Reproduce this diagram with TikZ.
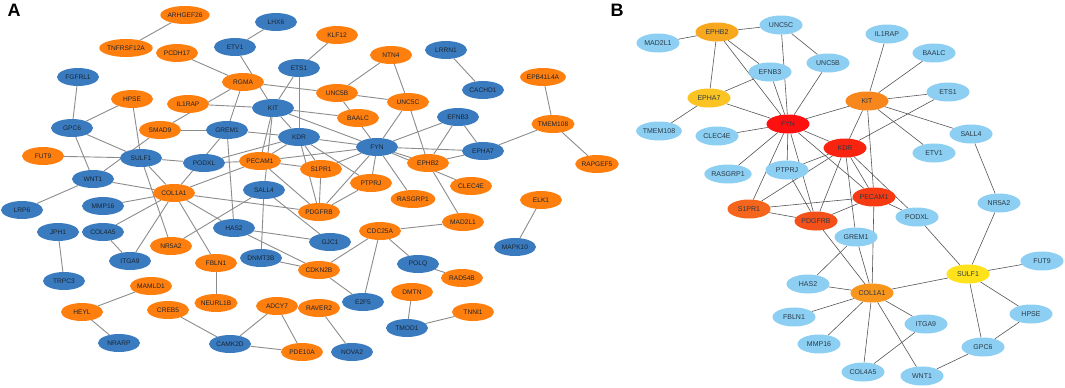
\documentclass[tikz,border=0pt]{standalone}
\usepackage{fontspec}
\setmainfont{Liberation Sans}
\usetikzlibrary{shapes.geometric}
\pgfdeclarelayer{background}
\pgfdeclarelayer{canvas}
\pgfsetlayers{canvas,background,main}
\definecolor{aor}{HTML}{FF7F0E}
\definecolor{abl}{HTML}{3A7BBF}
\definecolor{blb}{HTML}{8CCFF2}
\definecolor{cFYN}{HTML}{FF1010}
\definecolor{cKDR}{HTML}{F82410}
\definecolor{cPEC}{HTML}{F63A12}
\definecolor{cPDG}{HTML}{F4511A}
\definecolor{cSIP}{HTML}{F5661C}
\definecolor{cKIT}{HTML}{F7861C}
\definecolor{cCOL}{HTML}{F7951C}
\definecolor{cEBB}{HTML}{F8A81E}
\definecolor{cEAS}{HTML}{FBC422}
\definecolor{cSUL}{HTML}{FFE21A}
\definecolor{atext}{HTML}{1A2430}
\definecolor{btext}{HTML}{2B3A47}
\definecolor{aedgecol}{HTML}{8C8C8C}
\definecolor{bedgecol}{HTML}{555555}
\tikzset{
  anode/.style={ellipse, draw=none, minimum width=42pt, minimum height=18pt, inner sep=0pt,
    text=atext, font=\fontsize{6.6}{7}\selectfont},
  ao/.style={anode, fill=aor},
  ab/.style={anode, fill=abl},
  bnode/.style={ellipse, draw=none, minimum width=43pt, minimum height=19pt, inner sep=0pt,
    text=btext, font=\fontsize{7}{8}\selectfont},
  bl/.style={bnode, fill=blb},
  bc/.style={bnode, fill=#1},
  aedge/.style={draw=aedgecol, line width=0.9pt},
  bedge/.style={draw=bedgecol, line width=0.6pt},
  panellabel/.style={font=\fontsize{18}{18}\selectfont\bfseries, text=black, inner sep=0pt}
}
\begin{document}
\begin{tikzpicture}[x=1pt,y=-1pt]
\useasboundingbox (0,0) rectangle (1065,388);
\begin{pgfonlayer}{canvas}
\fill[white] (0,0) rectangle (1065,388);
\end{pgfonlayer}
\node[panellabel] (labA) at (14,10) {A};
\node[panellabel] (labB) at (617,10) {B};
% ---------------- Panel A nodes
\node[ao] (aARHGEF26) at (185,15) {ARHGEF26};
\node[ab] (aLHX6) at (276,22) {LHX6};
\node[ao] (aTNFRSF12A) at (126,48) {TNFRSF12A};
\node[ab] (aETV1) at (235,47) {ETV1};
\node[ao] (aPCDH17) at (177,53) {PCDH17};
\node[ao] (aKLF12) at (337,35) {KLF12};
\node[ao] (aNTN4) at (391,55) {NTN4};
\node[ab] (aLRRN1) at (446,50) {LRRN1};
\node[ab] (aETS1) at (299,68) {ETS1};
\node[ab] (aFGFRL1) at (78,77) {FGFRL1};
\node[ao] (aRGMA) at (243,82) {RGMA};
\node[ao] (aEPB41L4A) at (543,77) {EPB41L4A};
\node[ab] (aCACHD1) at (483,90) {CACHD1};
\node[ao] (aUNC5B) at (337,93) {UNC5B};
\node[ao] (aHPSE) at (132,99) {HPSE};
\node[ao] (aIL1RAP) at (188,104) {IL1RAP};
\node[ao] (aUNC5C) at (408,102) {UNC5C};
\node[ab] (aKIT) at (273,108) {KIT};
\node[ao] (aBAALC) at (358,118) {BAALC};
\node[ab] (aEFNB3) at (458,117) {EFNB3};
\node[ao] (aTMEM108) at (553,124) {TMEM108};
\node[ab] (aGPC6) at (72,128) {GPC6};
\node[ao] (aSMAD9) at (160,130) {SMAD9};
\node[ab] (aGREM1) at (227,130) {GREM1};
\node[ab] (aKDR) at (299,137) {KDR};
\node[ab] (aFYN) at (377,147) {FYN};
\node[ab] (aEPHA7) at (483,151) {EPHA7};
\node[ao] (aFUT9) at (43,156) {FUT9};
\node[ab] (aSULF1) at (141,158) {SULF1};
\node[ab] (aPODXL) at (204,163) {PODXL};
\node[ao] (aPECAM1) at (260,161) {PECAM1};
\node[ao] (aEPHB2) at (428,163) {EPHB2};
\node[ao] (aRAPGEF5) at (597,164) {RAPGEF5};
\node[ao] (aS1PR1) at (321,169) {S1PR1};
\node[ao] (aPTPRJ) at (371,183) {PTPRJ};
\node[ao] (aCLEC4E) at (471,186) {CLEC4E};
\node[ab] (aWNT1) at (93,179) {WNT1};
\node[ao] (aCOL1A1) at (174,193) {COL1A1};
\node[ab] (aSALL4) at (264,190) {SALL4};
\node[ao] (aRASGRP1) at (413,199) {RASGRP1};
\node[ao] (aELK1) at (541,200) {ELK1};
\node[ab] (aLRP6) at (22,210) {LRP6};
\node[ab] (aMMP16) at (103,206) {MMP16};
\node[ao] (aPDGFRB) at (319,212) {PDGFRB};
\node[ao] (aMAD2L1) at (463,222) {MAD2L1};
\node[ab] (aHAS2) at (234,228) {HAS2};
\node[ao] (aCDC25A) at (380,231) {CDC25A};
\node[ab] (aJPH1) at (58,232) {JPH1};
\node[ab] (aCOL4A5) at (103,232) {COL4A5};
\node[ab] (aGJC1) at (330,242) {GJC1};
\node[ao] (aNR5A2) at (171,246) {NR5A2};
\node[ab] (aMAPK10) at (515,247) {MAPK10};
\node[ab] (aDNMT3B) at (261,258) {DNMT3B};
\node[ab] (aITGA9) at (130,261) {ITGA9};
\node[ao] (aFBLN1) at (216,263) {FBLN1};
\node[ab] (aPOLQ) at (418,264) {POLQ};
\node[ao] (aCDKN2B) at (319,270) {CDKN2B};
\node[ao] (aRAD54B) at (462,278) {RAD54B};
\node[ab] (aTRPC3) at (64,281) {TRPC3};
\node[ao] (aMAMLD1) at (151,286) {MAMLD1};
\node[ao] (aDMTN) at (412,292) {DMTN};
\node[ab] (aE2F5) at (363,302) {E2F5};
\node[ao] (aNEURL1B) at (216,303) {NEURL1B};
\node[ao] (aADCY7) at (277,306) {ADCY7};
\node[ao] (aRAVER2) at (319,308) {RAVER2};
\node[ao] (aCREB5) at (168,310) {CREB5};
\node[ao] (aHEYL) at (82,312) {HEYL};
\node[ao] (aTNNI1) at (473,312) {TNNI1};
\node[ab] (aTMOD1) at (407,328) {TMOD1};
\node[ab] (aNRARP) at (119,343) {NRARP};
\node[ab] (aCAMK2D) at (230,344) {CAMK2D};
\node[ao] (aPDE10A) at (302,352) {PDE10A};
\node[ab] (aNOVA2) at (352,352) {NOVA2};
% ---------------- Panel B nodes
\node[bl] (bMAD2L1) at (658,43) {MAD2L1};
\node[bc=cEBB] (bEPHB2) at (717,32) {EPHB2};
\node[bl] (bUNC5C) at (781,25) {UNC5C};
\node[bl] (bUNC5B) at (828,63) {UNC5B};
\node[bl] (bEFNB3) at (770,72) {EFNB3};
\node[bc=cEAS] (bEPHA7) at (709,98) {EPHA7};
\node[bl] (bTMEM108) at (659,131) {TMEM108};
\node[bl] (bCLEC4E) at (717,136) {CLEC4E};
\node[bc=cFYN] (bFYN) at (788,124) {FYN};
\node[bl] (bIL1RAP) at (887,34) {IL1RAP};
\node[bl] (bBAALC) at (934,53) {BAALC};
\node[bl] (bETS1) at (948,92) {ETS1};
\node[bc=cKIT] (bKIT) at (867,101) {KIT};
\node[bl] (bSALL4) at (971,134) {SALL4};
\node[bl] (bETV1) at (934,153) {ETV1};
\node[bc=cKDR] (bKDR) at (845,148) {KDR};
\node[bl] (bPTPRJ) at (787,170) {PTPRJ};
\node[bl] (bRASGRP1) at (728,174) {RASGRP1};
\node[bc=cSIP] (bS1PR1) at (749,209) {S1PR1};
\node[bc=cPDG] (bPDGFRB) at (816,221) {PDGFRB};
\node[bc=cPEC] (bPECAM1) at (874,197) {PECAM1};
\node[bl] (bPODXL) at (917,217) {PODXL};
\node[bl] (bNR5A2) at (999,203) {NR5A2};
\node[bl] (bGREM1) at (856,237) {GREM1};
\node[bc=cSUL] (bSULF1) at (968,274) {SULF1};
\node[bl] (bFUT9) at (1042,261) {FUT9};
\node[bl] (bHAS2) at (808,284) {HAS2};
\node[bc=cCOL] (bCOL1A1) at (872,293) {COL1A1};
\node[bl] (bFBLN1) at (794,317) {FBLN1};
\node[bl] (bITGA9) at (926,324) {ITGA9};
\node[bl] (bHPSE) at (1031,314) {HPSE};
\node[bl] (bMMP16) at (819,344) {MMP16};
\node[bl] (bGPC6) at (983,347) {GPC6};
\node[bl] (bCOL4A5) at (863,372) {COL4A5};
\node[bl] (bWNT1) at (922,376) {WNT1};
% ---------------- Edges
\begin{pgfonlayer}{background}
\foreach \u/\v in {
  aARHGEF26/aTNFRSF12A, aLHX6/aETV1, aETV1/aKIT, aPCDH17/aRGMA, aFGFRL1/aGPC6,
  aSMAD9/aRGMA, aIL1RAP/aKIT, aRGMA/aGREM1, aRGMA/aUNC5B, aHPSE/aGPC6, aHPSE/aSULF1,
  aSMAD9/aGREM1, aWNT1/aSMAD9, aGPC6/aSULF1, aGPC6/aWNT1, aFUT9/aSULF1, aSULF1/aPODXL,
  aSULF1/aCOL1A1, aSULF1/aNR5A2, aWNT1/aCOL1A1, aWNT1/aLRP6, aGREM1/aCOL1A1, aGREM1/aKDR,
  aGREM1/aHAS2, aPODXL/aKDR, aPODXL/aPECAM1, aPECAM1/aCOL1A1,
  aKIT/aKDR, aKIT/aPECAM1, aKIT/aSALL4, aKIT/aBAALC, aKIT/aFYN,
  aETS1/aKIT, aETS1/aKDR, aETS1/aKLF12,
  aKDR/aPECAM1, aKDR/aFYN, aKDR/aS1PR1, aKDR/aPDGFRB, aKDR/aPTPRJ,
  aPECAM1/aFYN, aPECAM1/aS1PR1, aPECAM1/aPDGFRB,
  aSALL4/aGJC1, aSALL4/aDNMT3B, aSALL4/aNR5A2,
  aCOL1A1/aPDGFRB, aCOL1A1/aHAS2, aCOL1A1/aMMP16, aCOL1A1/aCOL4A5, aCOL1A1/aITGA9, aCOL1A1/aFBLN1,
  aHAS2/aGJC1, aHAS2/aCDKN2B, aDNMT3B/aCDKN2B,
  aCDC25A/aCDKN2B, aCDC25A/aE2F5, aCDC25A/aPOLQ, aCDC25A/aMAD2L1, aCDKN2B/aE2F5, aPOLQ/aRAD54B,
  aDMTN/aTMOD1, aTMOD1/aTNNI1, aELK1/aMAPK10, aRAVER2/aNOVA2,
  aADCY7/aPDE10A, aADCY7/aCAMK2D, aCAMK2D/aPDE10A, aCREB5/aCAMK2D,
  aMAMLD1/aHEYL, aHEYL/aNRARP, aFBLN1/aNEURL1B, aJPH1/aTRPC3, aCOL4A5/aITGA9,
  aLRRN1/aCACHD1, aEPB41L4A/aTMEM108, aTMEM108/aEPHA7, aTMEM108/aRAPGEF5,
  aEPHB2/aMAD2L1,
  aFYN/aPTPRJ, aFYN/aRASGRP1, aFYN/aPDGFRB, aFYN/aS1PR1, aFYN/aEFNB3, aFYN/aEPHA7,
  aFYN/aEPHB2, aFYN/aCLEC4E, aFYN/aUNC5C, aFYN/aUNC5B,
  aPTPRJ/aPDGFRB, aS1PR1/aPDGFRB,
  aNTN4/aUNC5B, aNTN4/aUNC5C, aUNC5B/aUNC5C, aUNC5C/aEPHB2,
  aEFNB3/aEPHA7, aEFNB3/aEPHB2, aEPHA7/aEPHB2}
  \draw[aedge] (\u) -- (\v);
\foreach \u/\v in {
  bEPHB2/bMAD2L1, bEPHB2/bUNC5C, bEPHB2/bEPHA7, bEPHB2/bEFNB3, bEPHB2/bFYN,
  bEPHA7/bEFNB3, bEPHA7/bFYN, bEPHA7/bTMEM108,
  bUNC5C/bUNC5B, bUNC5C/bFYN, bUNC5B/bFYN, bEFNB3/bFYN,
  bFYN/bCLEC4E, bFYN/bKIT, bFYN/bKDR, bFYN/bRASGRP1, bFYN/bPTPRJ, bFYN/bS1PR1,
  bFYN/bPDGFRB, bFYN/bPECAM1,
  bKIT/bIL1RAP, bKIT/bBAALC, bKIT/bETS1, bKIT/bSALL4, bKIT/bETV1, bKIT/bKDR, bKIT/bPECAM1,
  bETS1/bKDR, bSALL4/bNR5A2,
  bKDR/bPTPRJ, bKDR/bS1PR1, bKDR/bPDGFRB, bKDR/bPECAM1, bKDR/bGREM1, bKDR/bPODXL,
  bPTPRJ/bPDGFRB, bS1PR1/bPDGFRB, bS1PR1/bPECAM1,
  bPDGFRB/bPECAM1, bPDGFRB/bCOL1A1, bPECAM1/bCOL1A1, bPECAM1/bPODXL,
  bGREM1/bHAS2, bGREM1/bCOL1A1,
  bCOL1A1/bHAS2, bCOL1A1/bFBLN1, bCOL1A1/bMMP16, bCOL1A1/bCOL4A5, bCOL1A1/bWNT1,
  bCOL1A1/bITGA9, bCOL1A1/bSULF1, bITGA9/bCOL4A5,
  bSULF1/bPODXL, bSULF1/bNR5A2, bSULF1/bFUT9, bSULF1/bHPSE, bSULF1/bGPC6,
  bGPC6/bHPSE, bGPC6/bWNT1}
  \draw[bedge] (\u) -- (\v);
\end{pgfonlayer}
\end{tikzpicture}
\end{document}
